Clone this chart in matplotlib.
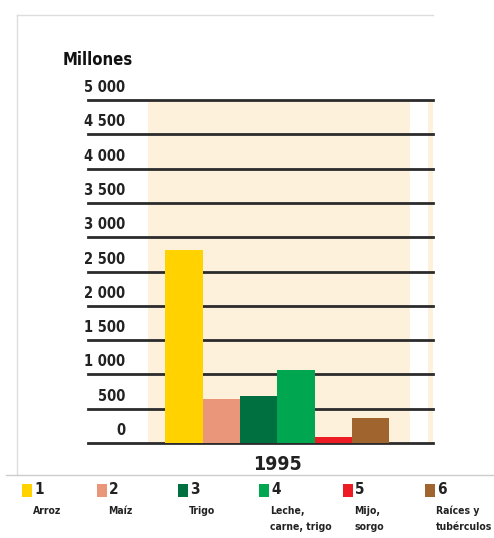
import matplotlib
matplotlib.use('Agg')
import matplotlib.pyplot as plt
import matplotlib.transforms as mtransforms
from matplotlib.lines import Line2D
from matplotlib.patches import Rectangle

plt.rcParams['font.family'] = ['DejaVu Sans']
plt.rcParams['font.stretch'] = 'condensed'

# Data
numbers = ['1', '2', '3', '4', '5', '6']
names = ['Arroz', 'Maíz', 'Trigo', 'Leche,\ncarne, trigo', 'Mijo,\nsorgo', 'Raíces y\ntubérculos']
values = [2810, 640, 680, 1070, 90, 365]
colors = ['#FFD200', '#E9967A', '#007040', '#00A650', '#ED1C24', '#A0652F']
yticks = [0, 500, 1000, 1500, 2000, 2500, 3000, 3500, 4000, 4500, 5000]
ytick_labels = ['0', '500', '1 000', '1 500', '2 000', '2 500', '3 000', '3 500', '4 000', '4 500', '5 000']
year = '1995'

W, H = 494, 538
fig = plt.figure(figsize=(W / 100, H / 100), dpi=100)

# axes in pixel geometry
ax_l, ax_r, ax_t, ax_b = 88, 433, 100, 443
ax = fig.add_axes([ax_l / W, 1 - ax_b / H, (ax_r - ax_l) / W, (ax_b - ax_t) / H])

step = 37.3
c0 = 184
ax.set_xlim((ax_l - c0) / step, (ax_r - c0) / step)
ax.set_ylim(0, 5000)

# beige background panels
ax.axvspan((148 - c0) / step, (410 - c0) / step, color='#FDF1DC', zorder=0, lw=0)
ax.axvspan((428 - c0) / step, (ax_r - c0) / step, color='#FDF1DC', zorder=0, lw=0)

# gridlines
for v in yticks:
    ax.axhline(v, color='#2b2b2b', lw=2.0, zorder=1, clip_on=False)

# bars
ax.bar(range(len(values)), values, width=1.0, color=colors, zorder=2, lw=0)

# tick labels placed above the gridlines
trans = mtransforms.blended_transform_factory(fig.transFigure, ax.transData)
offset = mtransforms.ScaledTranslation(0, 5 / 100, fig.dpi_scale_trans)
for v, lab in zip(yticks, ytick_labels):
    ax.text(125 / W, v, lab, transform=trans + offset, ha='right', va='bottom',
            fontsize=10.5, color='#222222', fontweight='bold')

ax.set_xticks([])
ax.set_yticks([])
for s in ax.spines.values():
    s.set_visible(False)
ax.patch.set_visible(False)

def fx(x):
    return x / W

def fy(y):
    return 1 - y / H

fig.text(fx(63), fy(60), 'Millones', fontsize=12, fontweight='bold', ha='left', va='center', color='#111111')
fig.text(fx(277), fy(464), year, fontsize=14, fontweight='bold', ha='center', va='center', color='#222222')

# frame lines
fig.add_artist(Line2D([fx(17), fx(433)], [fy(15), fy(15)], color='#dddddd', lw=1))
fig.add_artist(Line2D([fx(17), fx(17)], [fy(15), fy(475)], color='#dddddd', lw=1))
fig.add_artist(Line2D([fx(6), fx(494)], [fy(475), fy(475)], color='#cccccc', lw=1))

# legend
leg_x = [22, 97, 178, 259, 343, 425]
for x, num, name, col in zip(leg_x, numbers, names, colors):
    fig.add_artist(Rectangle((fx(x), fy(497)), 10 / W, 13 / H, color=col, lw=0))
    fig.text(fx(x + 12), fy(490), num, fontsize=11, fontweight='bold', ha='left', va='center', color='#222222')
    fig.text(fx(x + 11), fy(506), name, fontsize=7.5, fontweight='bold', ha='left', va='top', color='#222222',
             linespacing=1.75)

fig.savefig('out.png', dpi=100)
